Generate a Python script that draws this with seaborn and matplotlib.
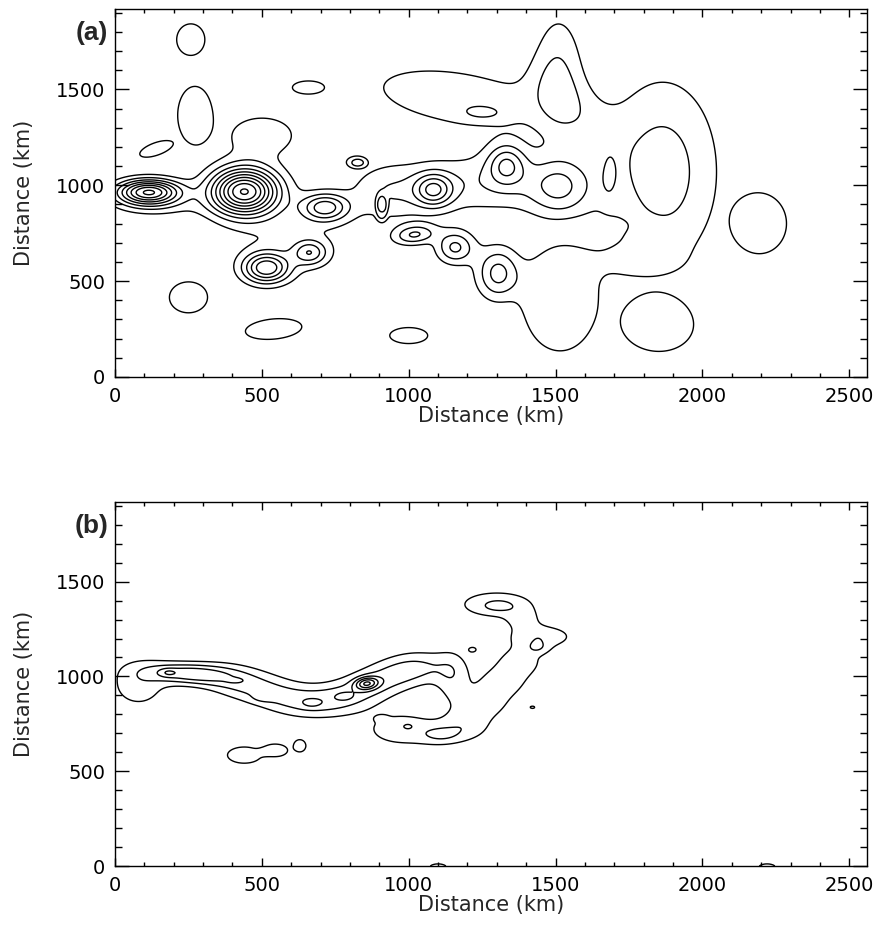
import numpy as np
import matplotlib
matplotlib.use("Agg")
import matplotlib.pyplot as plt
import seaborn as sns
from matplotlib.ticker import MultipleLocator

# ---- panel (a): smooth field as a sum of (super-)Gaussian components (km) ----
a_cx  = [258, 272, 141, 657, 250, 540, 1000, 2197, 1845, 823, 908,
         115, 140, 440, 500, 715, 663, 515, 600,
         930, 1250, 1085, 1333, 1514, 1865, 1680, 1720, 1515, 1580,
         1160, 1255, 1510, 1560, 1158, 1020, 1305]
a_cy  = [1760, 1366, 1190, 1510, 415, 250, 216, 800, 273, 1121, 884,
         965, 890, 968, 1260, 885, 648, 568, 720,
         960, 1010, 975, 1110, 989, 1070, 1042, 600, 400, 775,
         1460, 1375, 1600, 1400, 676, 742, 540]
a_sx  = [46, 56, 62, 49, 62, 93, 62, 85, 120, 31, 18,
         75, 110, 80, 92, 55, 40, 55, 160,
         90, 200, 45, 45, 75, 135, 22, 120, 120, 120,
         232, 55, 60, 190, 45, 50, 52]
a_sy  = [79, 144, 29, 31, 77, 50, 40, 147, 140, 28, 58,
         45, 45, 85, 83, 50, 45, 55, 140,
         100, 110, 60, 75, 110, 345, 110, 60, 253, 30,
         114, 28, 220, 75, 60, 35, 95]
a_amp = [1.8, 1.8, 1.8, 1.8, 1.8, 1.8, 1.8, 1.8, 1.55, 1.8, 1.8,
         8.0, 1.0, 10.0, 1.8, 4.3, 3.2, 5.5, 1.0,
         1.6, 1.8, 4.0, 3.2, 2.6, 2.5, 0.8, 1.0, 1.8, -0.7,
         1.8, 0.9, 1.8, 1.0, 3.2, 3.0, 3.4]
a_ang = [0, 0, 33, 0, 0, 10, 0, 0, 10, 0, 0,
         0, 0, 0, 0, 0, 0, 0, 0,
         0, 0, 0, 0, 0, 0, 0, 0, 0, 8,
         -15, 0, 0, -62, 0, 15, 0]
a_pow = [2, 2, 2, 2, 2, 2, 2, 2, 2, 2, 2,
         1, 1, 1, 1, 1, 1, 1, 1,
         1, 1, 1, 1, 1, 1, 1, 1, 2, 1,
         1, 1, 1, 1, 1, 1, 1]
a_levels = [1, 2, 3, 4, 5, 6, 7, 8, 9, 10]

# ---- panel (b): filament field as a sum of Gaussian components (km) ----
b_cx  = [80, 250, 180,
         380, 470, 560, 650, 740, 820, 900, 980, 1060,
         408, 504, 669, 782, 857,
         1150, 980, 907, 997, 1110,
         1200, 1260, 1320, 1380,
         1450, 1440, 1390, 1300, 1306,
         440, 545, 629, 1218, 1422, 1100, 2220]
b_cy  = [960, 1015, 1020,
         985, 950, 905, 870, 875, 915, 975, 1025, 1050,
         979, 889, 858, 895, 963,
         990, 720, 779, 737, 690,
         740, 860, 970, 1080,
         1210, 1150, 1300, 1380, 1371,
         585, 610, 634, 1142, 837, -10, -10]
b_sx  = [72, 97, 20,
         80, 80, 80, 80, 80, 80, 80, 80, 80,
         18, 25, 25, 22, 28,
         40, 100, 15, 12, 50,
         60, 60, 60, 60,
         80, 28, 40, 100, 35,
         60, 45, 22, 15, 16, 50, 50]
b_sy  = [95, 38, 15,
         62, 62, 62, 62, 62, 62, 62, 62, 62,
         8, 16, 18, 16, 22,
         100, 70, 12, 10, 35,
         60, 60, 60, 60,
         45, 24, 40, 55, 20,
         45, 35, 34, 15, 13, 35, 35]
b_amp = [1.6, 3.5, 1.0,
         1.26, 1.26, 1.26, 1.26, 1.26, 1.26, 1.26, 1.26, 1.26,
         0.8, 0.8, 0.8, 0.8, 3.8,
         1.4, 1.6, 0.8, 0.8, 1.4,
         1.5, 1.5, 1.5, 1.5,
         1.8, 1.0, 1.1, 1.8, 0.8,
         1.5, 1.5, 1.5, 1.1, 1.05, 1.2, 1.2]
b_ang = [0, -5, 0,
         -20, -25, -25, 0, 15, 30, 30, 25, 0,
         0, 0, 0, 0, 20,
         0, 0, 0, 0, 0,
         0, 0, 0, 0,
         0, 0, 0, 0, 0,
         0, 0, 0, 0, 0, 0, 0]
b_pow = [1, 1, 1,
         1, 1, 1, 1, 1, 1, 1, 1, 1,
         1, 1, 1, 1, 1,
         1, 1, 1, 1, 1,
         1, 1, 1, 1,
         1, 1, 1, 1, 1,
         2, 2, 2, 1, 1, 1, 1]
b_levels = [1, 2, 3, 4, 5, 6]

XMAX, YMAX = 2560, 1920


def blob_field(xg, yg, cx, cy, sx, sy, amp, ang, pw):
    z = np.zeros_like(xg)
    for x0, y0, s1, s2, a, t, p in zip(cx, cy, sx, sy, amp, ang, pw):
        th = np.deg2rad(t)
        dx, dy = xg - x0, yg - y0
        u = dx * np.cos(th) + dy * np.sin(th)
        v = -dx * np.sin(th) + dy * np.cos(th)
        q = (u / s1) ** 2 + (v / s2) ** 2
        z += a * np.exp(-0.5 * q ** p)
    return z


xs = np.arange(0, XMAX + 1, 5.0)
ys = np.arange(0, YMAX + 1, 5.0)
XG, YG = np.meshgrid(xs, ys)
za = blob_field(XG, YG, a_cx, a_cy, a_sx, a_sy, a_amp, a_ang, a_pow)
zb = blob_field(XG, YG, b_cx, b_cy, b_sx, b_sy, b_amp, b_ang, b_pow)

sns.set_theme(style="ticks")
plt.rcParams["font.family"] = ["DejaVu Sans"]
plt.rcParams["axes.linewidth"] = 1.0

fig = plt.figure(figsize=(8.79, 9.34), dpi=100)
ax_a = fig.add_axes([0.1308, 0.5964, 0.8555, 0.3940])
ax_b = fig.add_axes([0.1308, 0.0728, 0.8555, 0.3897])

for ax, z, lev, tag in [(ax_a, za, a_levels, "(a)"), (ax_b, zb, b_levels, "(b)")]:
    ax.contour(XG, YG, z, levels=lev, colors="black", linewidths=1.0)
    ax.set_xlim(0, XMAX)
    ax.set_ylim(0, YMAX)
    ax.xaxis.set_major_locator(MultipleLocator(500))
    ax.xaxis.set_minor_locator(MultipleLocator(100))
    ax.yaxis.set_major_locator(MultipleLocator(500))
    ax.yaxis.set_minor_locator(MultipleLocator(100))
    ax.tick_params(axis="both", which="both", direction="in",
                   top=True, right=True, colors="black", width=1.0,
                   labelsize=14, pad=7)
    ax.tick_params(axis="x", which="major", length=6)
    ax.tick_params(axis="x", which="minor", length=3)
    ax.tick_params(axis="y", which="major", length=10)
    ax.tick_params(axis="y", which="minor", length=5)
    ax.set_xlabel("Distance (km)", fontsize=15, labelpad=0)
    ax.set_ylabel("Distance (km)", fontsize=15, labelpad=16)
    for sp in ax.spines.values():
        sp.set_color("black")
    ax.text(-0.009, 0.968, tag, transform=ax.transAxes, ha="right", va="top",
            fontsize=19, fontweight="bold", family=["Liberation Sans", "DejaVu Sans"])

fig.savefig("out.png", dpi=100, facecolor="white")
